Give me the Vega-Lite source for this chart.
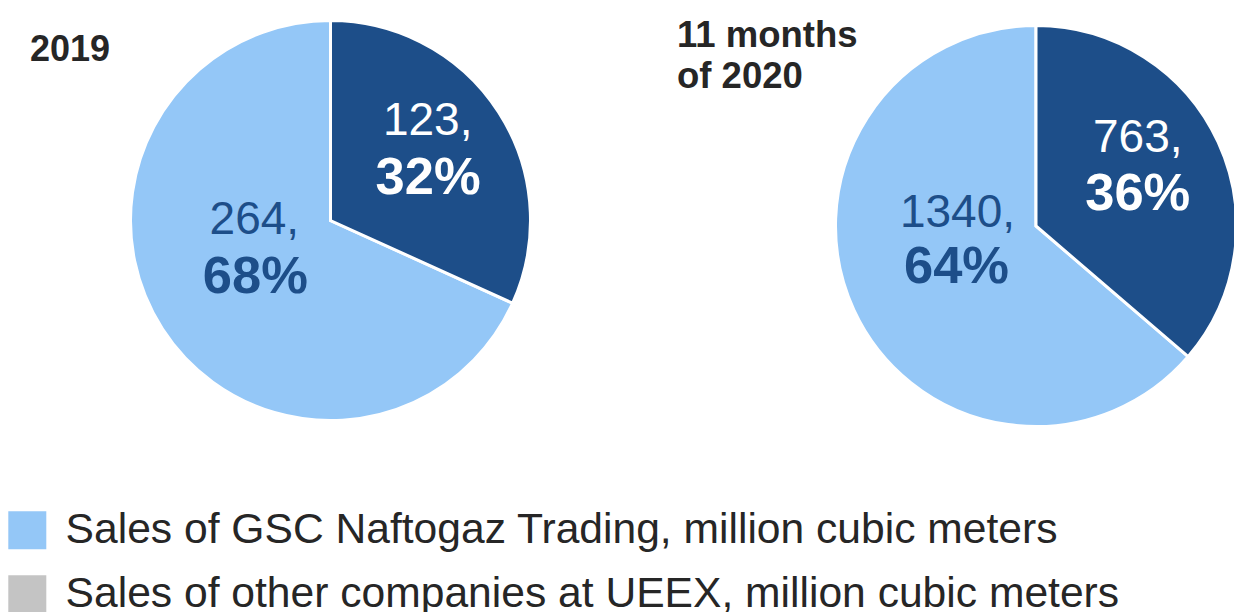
{
  "$schema": "https://vega.github.io/schema/vega-lite/v6.json",
  "padding": 0,
  "background": "#ffffff",
  "config": {"view": {"stroke": null}, "font": "Liberation Sans"},
  "data": {
    "values": [
      {"period": "2019", "company": "Sales of GSC Naftogaz Trading, million cubic meters", "value": 264, "share": 0.68},
      {"period": "2019", "company": "Sales of other companies at UEEX, million cubic meters", "value": 123, "share": 0.32},
      {"period": "2020", "company": "Sales of GSC Naftogaz Trading, million cubic meters", "value": 1340, "share": 0.64},
      {"period": "2020", "company": "Sales of other companies at UEEX, million cubic meters", "value": 763, "share": 0.36}
    ]
  },
  "spacing": 177,
  "bounds": "flush",
  "hconcat": [
    {
      "width": 661,
      "height": 441,
      "title": {"text": "2019", "anchor": "start", "frame": "group", "orient": "top", "offset": 0, "dx": 30, "dy": 97, "baseline": "alphabetic", "fontSize": 36, "fontWeight": "bold", "color": "#262626", "font": "Liberation Sans"},
      "transform": [{"filter": "datum.period === '2019'"}],
      "layer": [
        {
          "mark": {"type": "arc", "outerRadius": 200, "stroke": "#ffffff", "strokeWidth": 3},
          "encoding": {
            "theta": {"field": "value", "type": "quantitative", "stack": true},
            "order": {"field": "company", "sort": "descending"},
            "color": {"field": "company", "type": "nominal", "scale": {"domain": ["Sales of GSC Naftogaz Trading, million cubic meters", "Sales of other companies at UEEX, million cubic meters"], "range": ["#94c7f7", "#1d4e89"]}, "legend": null}
          }
        },
        {
          "mark": {"type": "text", "radius": 112, "dx": 3, "dy": -25, "fontSize": 46, "color": "#ffffff", "align": "center", "baseline": "alphabetic", "text": {"expr": "datum.value + ','"}},
          "encoding": {
            "theta": {"field": "value", "type": "quantitative", "stack": true},
            "order": {"field": "company", "sort": "descending"},
            "opacity": {"condition": {"test": "indexof(datum.company, 'other') >= 0", "value": 1}, "value": 0}
          }
        },
        {
          "mark": {"type": "text", "radius": 112, "dx": 3.5, "dy": 34, "fontSize": 52.5, "fontWeight": "bold", "color": "#ffffff", "align": "center", "baseline": "alphabetic"},
          "encoding": {
            "theta": {"field": "value", "type": "quantitative", "stack": true},
            "order": {"field": "company", "sort": "descending"},
            "text": {"field": "share", "type": "quantitative", "format": ".0%"},
            "opacity": {"condition": {"test": "indexof(datum.company, 'other') >= 0", "value": 1}, "value": 0}
          }
        },
        {
          "mark": {"type": "text", "radius": 90, "dx": -0.5, "dy": -35, "fontSize": 46, "color": "#1d4e89", "align": "center", "baseline": "alphabetic", "text": {"expr": "datum.value + ','"}},
          "encoding": {
            "theta": {"field": "value", "type": "quantitative", "stack": true},
            "order": {"field": "company", "sort": "descending"},
            "opacity": {"condition": {"test": "indexof(datum.company, 'GSC') >= 0", "value": 1}, "value": 0}
          }
        },
        {
          "mark": {"type": "text", "radius": 90, "dx": 0.5, "dy": 24, "fontSize": 52.5, "fontWeight": "bold", "color": "#1d4e89", "align": "center", "baseline": "alphabetic"},
          "encoding": {
            "theta": {"field": "value", "type": "quantitative", "stack": true},
            "order": {"field": "company", "sort": "descending"},
            "text": {"field": "share", "type": "quantitative", "format": ".0%"},
            "opacity": {"condition": {"test": "indexof(datum.company, 'GSC') >= 0", "value": 1}, "value": 0}
          }
        },
        {
          "mark": {"type": "text", "text": ""},
          "encoding": {
            "color": {
              "field": "company", "type": "nominal",
              "scale": {"domain": ["Sales of GSC Naftogaz Trading, million cubic meters", "Sales of other companies at UEEX, million cubic meters"], "range": ["#94c7f7", "#c4c4c4"]},
              "legend": {"orient": "none", "legendX": 6, "legendY": 509, "direction": "vertical", "title": null, "symbolType": "square", "symbolSize": 1444, "symbolStrokeWidth": 0, "symbolOpacity": 1, "labelFont": "Liberation Sans", "labelFontSize": 42.6, "labelColor": "#262626", "labelLimit": 0, "labelOffset": 17, "rowPadding": 21, "padding": 0, "offset": 0}
            }
          }
        }
      ],
      "resolve": {"scale": {"color": "independent"}}
    },
    {
      "width": 396,
      "height": 452,
      "title": {"text": ["11 months", "of 2020"], "lineHeight": 41, "anchor": "start", "frame": "group", "orient": "top", "offset": 0, "dx": -161, "dy": 124, "baseline": "alphabetic", "fontSize": 36.5, "fontWeight": "bold", "color": "#262626", "font": "Liberation Sans"},
      "transform": [{"filter": "datum.period === '2020'"}],
      "layer": [
        {
          "mark": {"type": "arc", "outerRadius": 200.5, "stroke": "#ffffff", "strokeWidth": 3},
          "encoding": {
            "theta": {"field": "value", "type": "quantitative", "stack": true},
            "order": {"field": "company", "sort": "descending"},
            "color": {"field": "company", "type": "nominal", "scale": {"domain": ["Sales of GSC Naftogaz Trading, million cubic meters", "Sales of other companies at UEEX, million cubic meters"], "range": ["#94c7f7", "#1d4e89"]}, "legend": null}
          }
        },
        {
          "mark": {"type": "text", "radius": 112, "dx": 0, "dy": -27, "fontSize": 46, "color": "#ffffff", "align": "center", "baseline": "alphabetic", "text": {"expr": "datum.value + ','"}},
          "encoding": {
            "theta": {"field": "value", "type": "quantitative", "stack": true},
            "order": {"field": "company", "sort": "descending"},
            "opacity": {"condition": {"test": "indexof(datum.company, 'other') >= 0", "value": 1}, "value": 0}
          }
        },
        {
          "mark": {"type": "text", "radius": 112, "dx": 0, "dy": 31, "fontSize": 52.5, "fontWeight": "bold", "color": "#ffffff", "align": "center", "baseline": "alphabetic"},
          "encoding": {
            "theta": {"field": "value", "type": "quantitative", "stack": true},
            "order": {"field": "company", "sort": "descending"},
            "text": {"field": "share", "type": "quantitative", "format": ".0%"},
            "opacity": {"condition": {"test": "indexof(datum.company, 'other') >= 0", "value": 1}, "value": 0}
          }
        },
        {
          "mark": {"type": "text", "radius": 86.4, "dx": 0, "dy": -35, "fontSize": 46, "color": "#1d4e89", "align": "center", "baseline": "alphabetic", "text": {"expr": "datum.value + ','"}},
          "encoding": {
            "theta": {"field": "value", "type": "quantitative", "stack": true},
            "order": {"field": "company", "sort": "descending"},
            "opacity": {"condition": {"test": "indexof(datum.company, 'GSC') >= 0", "value": 1}, "value": 0}
          }
        },
        {
          "mark": {"type": "text", "radius": 86.4, "dx": -1, "dy": 21, "fontSize": 52.5, "fontWeight": "bold", "color": "#1d4e89", "align": "center", "baseline": "alphabetic"},
          "encoding": {
            "theta": {"field": "value", "type": "quantitative", "stack": true},
            "order": {"field": "company", "sort": "descending"},
            "text": {"field": "share", "type": "quantitative", "format": ".0%"},
            "opacity": {"condition": {"test": "indexof(datum.company, 'GSC') >= 0", "value": 1}, "value": 0}
          }
        }
      ]
    }
  ]
}
